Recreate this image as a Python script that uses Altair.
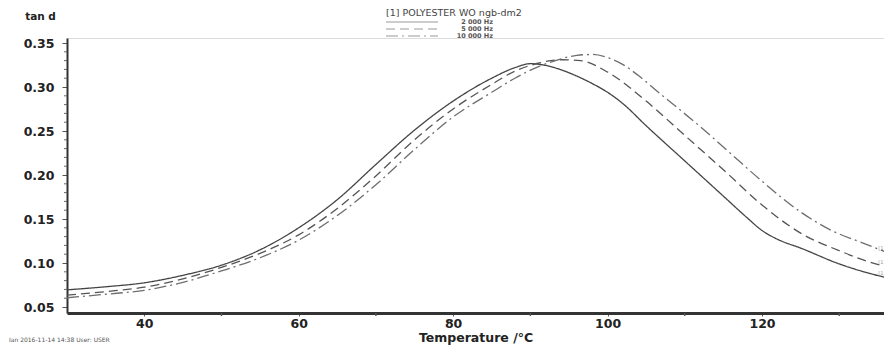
import altair as alt
import pandas as pd

# ---- data ----
freqs = ["2 000 Hz", "5 000 Hz", "10 000 Hz"]

temp_2000 = [30, 35, 40, 45, 50, 55, 60, 65, 70, 75, 80, 85, 88, 90, 92, 94, 96, 98, 100, 102, 105, 110, 115,
             118, 120, 122, 125, 130, 134, 136.5]
tan_2000 = [0.0695, 0.0730, 0.0775, 0.0860, 0.0975, 0.1150, 0.1400, 0.1720, 0.2120, 0.2510, 0.2840, 0.3100,
            0.3220, 0.3265, 0.3245, 0.3195, 0.3125, 0.3040, 0.2940, 0.2810, 0.2560, 0.2160, 0.1760,
            0.1520, 0.1370, 0.1270, 0.1170, 0.0990, 0.0880, 0.0825]

temp_5000 = [30, 35, 40, 45, 50, 55, 60, 65, 70, 75, 80, 85, 88, 91, 94, 96.5, 100, 105, 110, 115, 120, 125,
             130, 134, 136.5]
tan_5000 = [0.0635, 0.0675, 0.0725, 0.0820, 0.0950, 0.1110, 0.1320, 0.1620, 0.1990, 0.2400, 0.2750, 0.3030,
            0.3180, 0.3270, 0.3310, 0.3300, 0.3170, 0.2840, 0.2450, 0.2060, 0.1660, 0.1340, 0.1140, 0.1010, 0.0950]

temp_10000 = [30, 35, 40, 45, 50, 55, 60, 65, 70, 75, 80, 85, 88, 91, 94, 96, 98, 100, 102, 104, 107, 112,
              116, 120, 125, 129, 133, 136.5]
tan_10000 = [0.0605, 0.0645, 0.0690, 0.0780, 0.0910, 0.1060, 0.1260, 0.1540, 0.1890, 0.2290, 0.2660, 0.2940,
             0.3100, 0.3230, 0.3320, 0.3360, 0.3370, 0.3335, 0.3255, 0.3130, 0.2910, 0.2550, 0.2240, 0.1930,
             0.1580, 0.1370, 0.1230, 0.1110]

x_major = [40, 60, 80, 100, 120]
x_minor = [50, 70, 90, 110, 130]
y_major = [0.05, 0.10, 0.15, 0.20, 0.25, 0.30, 0.35]
y_minor = [0.06, 0.07, 0.08, 0.09, 0.11, 0.12, 0.13, 0.14, 0.16, 0.17, 0.18, 0.19, 0.21, 0.22, 0.23, 0.24,
           0.26, 0.27, 0.28, 0.29, 0.31, 0.32, 0.33, 0.34]

legend_title = "[1] POLYESTER WO ngb-dm2"
footer = "Ian   2016-11-14 14:38   User: USER"
end_tag = "[1]"

rows = []
for f, ts, vs in [(freqs[0], temp_2000, tan_2000), (freqs[1], temp_5000, tan_5000),
                  (freqs[2], temp_10000, tan_10000)]:
    for t, v in zip(ts, vs):
        rows.append({"freq": f, "T": t, "tan": v})
df = pd.DataFrame(rows)

W, H = 817, 275
FONT = "DejaVu Sans"
colors = ["#444444", "#555555", "#6e6e6e"]
dashes = [[1, 0], [9, 5], [12, 4, 2, 4]]

xscale = alt.Scale(domain=[30, 135.8], nice=False, zero=False)
yscale = alt.Scale(domain=[0.0432, 0.3557], nice=False, zero=False)

lines = alt.Chart(df).mark_line(clip=True, strokeWidth=1.3, interpolate="monotone").encode(
    x=alt.X("T:Q", scale=xscale,
            axis=alt.Axis(values=x_major, format="d", labelOverlap=False,
                          tickSize=3, labelPadding=1, domainWidth=3, domainColor="#333",
                          tickColor="#555", grid=False, labelFontSize=12.5,
                          labelFontWeight="bold", labelFont=FONT, labelColor="#222",
                          title="Temperature /°C", titleFont=FONT, titleFontSize=12.5,
                          titleFontWeight="bold", titleColor="#222", titlePadding=2)),
    y=alt.Y("tan:Q", scale=yscale,
            axis=alt.Axis(values=y_major, format=".2f", labelOverlap=False,
                          tickSize=5, labelPadding=8, domainWidth=2, domainColor="#333",
                          tickColor="#555", grid=False, labelFontSize=12.5,
                          labelFontWeight="bold", labelFont=FONT, labelColor="#222",
                          title="tan d", titleAngle=0, titleX=-27, titleY=-22,
                          titleAlign="center", titleBaseline="middle", titleFont=FONT,
                          titleFontSize=10.5, titleFontWeight="bold", titleColor="#222")),
    color=alt.Color("freq:N", scale=alt.Scale(domain=freqs, range=colors), legend=None),
    strokeDash=alt.StrokeDash("freq:N", scale=alt.Scale(domain=freqs, range=dashes), legend=None),
)

# minor ticks on both axes, placed through the shared scales
ymin_ticks = alt.Chart(pd.DataFrame({"v": y_minor})).mark_rule(color="#666", strokeWidth=1).encode(
    y=alt.Y("v:Q", scale=yscale), x=alt.value(-3), x2=alt.value(0))
xmin_ticks = alt.Chart(pd.DataFrame({"v": x_minor})).mark_rule(color="#555", strokeWidth=1.5).encode(
    x=alt.X("v:Q", scale=xscale), y=alt.value(H), y2=alt.value(H + 3))

# small "[1]" tags at the right-hand end of each curve
ends = pd.DataFrame({"T": [temp_2000[-1], temp_5000[-1], temp_10000[-1]],
                     "tan": [tan_2000[-1], tan_5000[-1], tan_10000[-1]],
                     "tag": [end_tag] * 3})
tags = alt.Chart(ends).mark_text(fontSize=5, font=FONT, color="#999", dx=-4, dy=-5, align="right").encode(
    x=alt.X("T:Q", scale=xscale), y=alt.Y("tan:Q", scale=yscale), text="tag:N")

# legend drawn in the header area, as in the instrument printout
leg_layers = []
row_y = [-16, -9, -2]
for i, f in enumerate(freqs):
    leg_layers.append(
        alt.Chart(pd.DataFrame({"f": [f]})).mark_rule(
            strokeWidth=1, color="#9a9a9a", strokeDash=dashes[i]
        ).encode(x=alt.value(319), x2=alt.value(371), y=alt.value(row_y[i]))
    )
    leg_layers.append(
        alt.Chart(pd.DataFrame({"f": [f]})).mark_text(
            align="right", baseline="middle", fontSize=6.5, font=FONT, color="#555", fontWeight="bold"
        ).encode(text="f:N", x=alt.value(426), y=alt.value(row_y[i]))
    )
leg_title = alt.Chart(pd.DataFrame({"t": [legend_title]})).mark_text(
    align="left", baseline="middle", fontSize=9.5, font=FONT, color="#444"
).encode(text="t:N", x=alt.value(319), y=alt.value(-25))

foot = alt.Chart(pd.DataFrame({"t": [footer]})).mark_text(
    align="left", baseline="middle", fontSize=6, font=FONT, color="#555"
).encode(text="t:N", x=alt.value(-58), y=alt.value(302))

chart = alt.layer(lines, ymin_ticks, xmin_ticks, tags, leg_title, *leg_layers, foot).properties(
    width=W, height=H,
    autosize=alt.AutoSizeParams(type="none"),
    padding={"left": 59, "top": 30, "right": 0, "bottom": 32},
).configure_view(stroke=None).configure_axis(grid=False).configure(background="white")

chart.save("out.html", embed_options={"renderer": "svg", "actions": False})
